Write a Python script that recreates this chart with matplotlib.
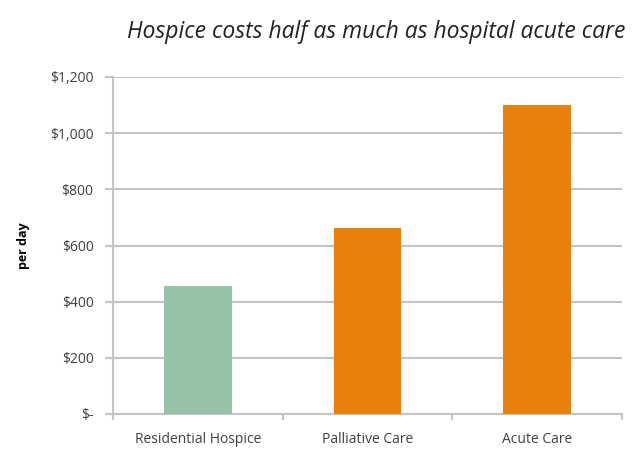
import numpy as np
import matplotlib.pyplot as plt
from matplotlib.ticker import FixedLocator

categories = ["Residential Hospice", "Palliative Care", "Acute Care"]
cost_per_day = [457, 662, 1100]
bar_colors = ["#96C2A5", "#E8800C", "#E8800C"]
y_ticks = [0, 200, 400, 600, 800, 1000, 1200]
y_labels = ["$-", "$200", "$400", "$600", "$800", "$1,000", "$1,200"]

grid_color = "#c4c4c4"

fig = plt.figure(figsize=(6.37, 4.49), dpi=100)
ax = fig.add_axes([113 / 637, 1 - 414 / 449, (622 - 113) / 637, (414 - 77) / 449])

x = np.arange(len(categories))
ax.bar(x, cost_per_day, width=0.4, color=bar_colors, zorder=3)

ax.set_xlim(-0.5, len(categories) - 0.5)
ax.set_ylim(0, 1200)
ax.set_yticks(y_ticks)
ax.set_yticklabels(y_labels)
ax.set_xticks(x)
ax.set_xticklabels(categories)
ax.xaxis.set_minor_locator(FixedLocator(np.arange(len(categories) + 1) - 0.5))

ax.yaxis.grid(True, color=grid_color, linewidth=1.5, zorder=0)
for side in ["top", "right"]:
    ax.spines[side].set_visible(False)
for side in ["left", "bottom"]:
    ax.spines[side].set_color(grid_color)
    ax.spines[side].set_linewidth(1.5)

ax.tick_params(axis="y", length=6, width=1.5, color=grid_color, pad=8,
               labelsize=10, labelcolor="#404040")
ax.tick_params(axis="x", which="major", length=0, pad=13, labelsize=10, labelcolor="#404040")
ax.tick_params(axis="x", which="minor", length=4, width=1.5, color=grid_color)
for lbl in ax.get_xticklabels() + ax.get_yticklabels():
    lbl.set_family("Open Sans")

ax.set_ylabel("per day", fontsize=9, fontweight="bold", family="Open Sans", labelpad=14)

fig.text(376 / 637, 1 - 32 / 449, "Hospice costs half as much as hospital acute care",
         ha="center", va="center", fontsize=16.5, style="italic", family="Open Sans", color="#222222")

fig.savefig("out.png", dpi=100)
